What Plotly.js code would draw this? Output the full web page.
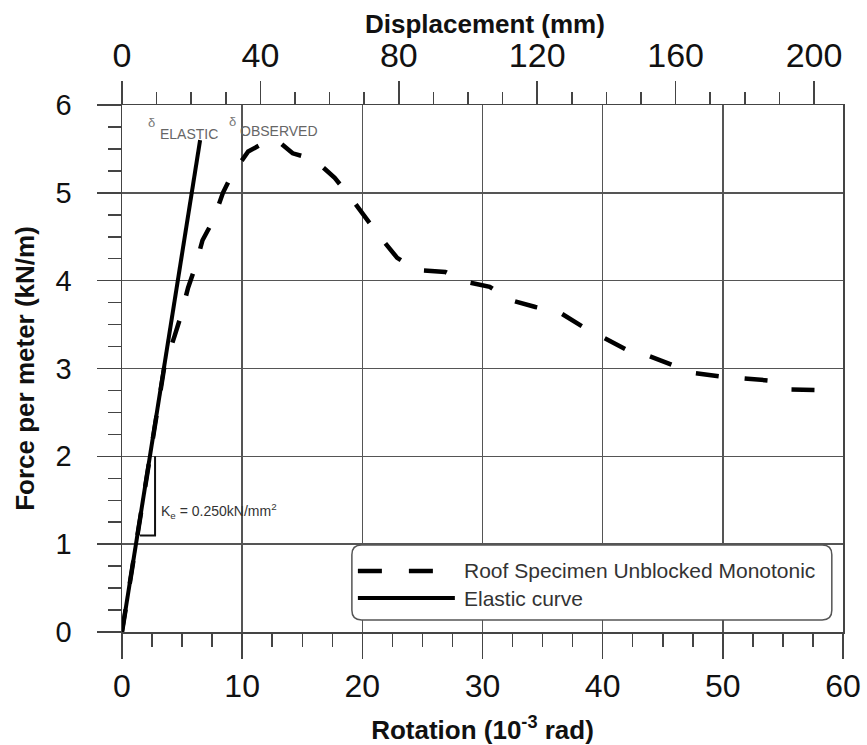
<!DOCTYPE html>
<html>
<head>
<meta charset="utf-8">
<script src="https://cdn.plot.ly/plotly-3.0.1.min.js"></script>
<style>
  html, body { margin: 0; padding: 0; background: #fff; }
  #chart { width: 867px; height: 745px; }
</style>
</head>
<body>
<div id="chart"></div>
<script>
// Observed curve (rotation in 10^-3 rad, force in kN/m)
const observedRotation = [0, 1.2, 2.4, 3.5, 4.4, 4.9, 5.5, 6.1, 6.7, 7.6, 8.4, 9.2, 10.5, 12.1, 12.9, 14.2, 16.0, 17.7, 18.9, 20.2, 21.4, 22.9, 24.5, 26.9, 28.5, 30.6, 32.3, 34.4, 36.4, 38.3, 39.8, 41.9, 43.7, 45.9, 47.5, 49.8, 51.6, 54.1, 55.6, 57.9, 59.1];
const observedForce    = [0, 1.05, 2.05, 3.0, 3.38, 3.6, 3.92, 4.16, 4.46, 4.69, 5.0, 5.22, 5.47, 5.59, 5.6, 5.45, 5.38, 5.17, 4.97, 4.72, 4.51, 4.26, 4.12, 4.10, 3.99, 3.93, 3.78, 3.70, 3.64, 3.48, 3.37, 3.22, 3.15, 3.04, 2.95, 2.91, 2.89, 2.86, 2.76, 2.75, 2.75];

// Elastic line
const elasticRotation = [0, 6.5];
const elasticForce    = [0, 5.6];

// Stiffness triangle
const triangleRotation = [1.5, 2.75, 2.75];
const triangleForce    = [1.1, 1.1, 2.0];

// Axis definitions
const rotationRange = [0, 60];
const forceRange = [0, 6];
const mmPerRotationUnit = 3.473;   // displacement (mm) per 10^-3 rad

const seriesNames = ['Roof Specimen Unblocked Monotonic', 'Elastic curve'];
const topAxisTitle = 'Displacement (mm)';

const FONT = '"Liberation Sans", Arial, Helvetica, sans-serif';
const AX = '#444';

const traces = [
  { x: observedRotation, y: observedForce, type: 'scatter', mode: 'lines', name: seriesNames[0],
    line: { color: '#000', width: 4.5, dash: '23px,26px' }, showlegend: false, xaxis: 'x', yaxis: 'y' },
  { x: elasticRotation, y: elasticForce, type: 'scatter', mode: 'lines', name: seriesNames[1],
    line: { color: '#000', width: 4 }, showlegend: false, xaxis: 'x', yaxis: 'y' },
  { x: triangleRotation, y: triangleForce, type: 'scatter', mode: 'lines', name: 'Ke',
    line: { color: '#111', width: 2 }, showlegend: false, hoverinfo: 'skip' },
  { x: [], y: [], type: 'scatter', mode: 'lines', xaxis: 'x2', yaxis: 'y', showlegend: false }
];

// legend geometry (data coordinates)
const lgX0 = 19.13, lgX1 = 59.07, lgY0 = 0.137, lgY1 = 0.99, rx = 0.8, ry = 0.11;
const boxPath = `M${lgX0 + rx},${lgY0} L${lgX1 - rx},${lgY0} Q${lgX1},${lgY0} ${lgX1},${lgY0 + ry} L${lgX1},${lgY1 - ry} Q${lgX1},${lgY1} ${lgX1 - rx},${lgY1} L${lgX0 + rx},${lgY1} Q${lgX0},${lgY1} ${lgX0},${lgY1 - ry} L${lgX0},${lgY0 + ry} Q${lgX0},${lgY0} ${lgX0 + rx},${lgY0} Z`;

const layout = {
  width: 867, height: 745, autosize: false,
  margin: { l: 122, r: 24, t: 105, b: 113, pad: 0 },
  paper_bgcolor: '#fff', plot_bgcolor: '#fff',
  font: { family: FONT, color: '#111' },
  showlegend: false,
  xaxis: {
    range: rotationRange, tick0: 0, dtick: 10,
    showgrid: true, gridcolor: '#555', gridwidth: 1.5, zeroline: false,
    showline: true, linecolor: AX, linewidth: 1.5, mirror: true,
    ticks: 'outside', ticklen: 25, tickwidth: 1.5, tickcolor: AX,
    minor: { dtick: 2.5, ticks: 'outside', ticklen: 13, tickwidth: 1.5, tickcolor: AX, showgrid: false },
    tickfont: { size: 32, family: FONT, color: '#111' },
    title: { text: 'Rotation (10<sup>-3</sup> rad)', font: { size: 26, family: FONT, weight: 'bold', color: '#111' }, standoff: 28 }
  },
  xaxis2: {
    overlaying: 'x', side: 'top', anchor: 'y',
    range: [0, rotationRange[1] * mmPerRotationUnit], tick0: 0, dtick: 40,
    showgrid: false, zeroline: false,
    showline: true, linecolor: AX, linewidth: 1.5,
    ticks: 'outside', ticklen: 23, tickwidth: 1.5, tickcolor: AX,
    minor: { dtick: 10, ticks: 'outside', ticklen: 12, tickwidth: 1.5, tickcolor: AX, showgrid: false },
    tickfont: { size: 34, family: FONT, color: '#111' }
  },
  yaxis: {
    range: forceRange, tick0: 0, dtick: 1,
    showgrid: true, gridcolor: '#555', gridwidth: 1.5, zeroline: false,
    showline: true, linecolor: AX, linewidth: 1.5, mirror: true,
    ticks: 'outside', ticklen: 24, tickwidth: 1.5, tickcolor: AX,
    minor: { dtick: 0.25, ticks: 'outside', ticklen: 13, tickwidth: 1.5, tickcolor: AX, showgrid: false },
    tickfont: { size: 29, family: FONT, color: '#111' },
    ticklabelstandoff: 19,
    title: { text: 'Force per meter (kN/m)', font: { size: 26, family: FONT, weight: 'bold', color: '#111' }, standoff: 13 }
  },
  shapes: [
    { type: 'path', xref: 'x', yref: 'y', path: boxPath, fillcolor: '#fff', line: { color: '#555', width: 1.5 }, layer: 'above' },
    { type: 'line', xref: 'x', yref: 'y', x0: 19.63, x1: 27.7, y0: 0.695, y1: 0.695, line: { color: '#000', width: 4.5, dash: '24px,27px' }, layer: 'above' },
    { type: 'line', xref: 'x', yref: 'y', x0: 19.63, x1: 27.7, y0: 0.387, y1: 0.387, line: { color: '#000', width: 4 }, layer: 'above' }
  ],
  annotations: [
    { xref: 'paper', yref: 'paper', x: 0.503, y: 1.154, text: topAxisTitle, showarrow: false, xanchor: 'center', yanchor: 'middle', font: { size: 26, family: FONT, weight: 'bold', color: '#111' } },
    { xref: 'x', yref: 'y', x: 28.3, y: 0.695, text: seriesNames[0], showarrow: false, xanchor: 'left', yanchor: 'middle', font: { size: 21, family: FONT, color: '#333' } },
    { xref: 'x', yref: 'y', x: 28.3, y: 0.387, text: seriesNames[1], showarrow: false, xanchor: 'left', yanchor: 'middle', font: { size: 21, family: FONT, color: '#333' } },
    { xref: 'x', yref: 'y', x: 2.47, y: 5.80, text: 'δ', showarrow: false, xanchor: 'center', yanchor: 'middle', font: { size: 13, family: FONT, color: '#777' } },
    { xref: 'x', yref: 'y', x: 3.0, y: 5.67, text: 'ELASTIC', showarrow: false, xanchor: 'left', yanchor: 'middle', font: { size: 14, family: FONT, color: '#666' } },
    { xref: 'x', yref: 'y', x: 9.21, y: 5.81, text: 'δ', showarrow: false, xanchor: 'center', yanchor: 'middle', font: { size: 13, family: FONT, color: '#777' } },
    { xref: 'x', yref: 'y', x: 9.63, y: 5.70, text: 'OBSERVED', showarrow: false, xanchor: 'left', yanchor: 'middle', font: { size: 14, family: FONT, color: '#666' } },
    { xref: 'x', yref: 'y', x: 3.1, y: 1.38, text: 'K<sub>e</sub> = 0.250kN/mm<sup>2</sup>', showarrow: false, xanchor: 'left', yanchor: 'middle', font: { size: 14, family: FONT, color: '#333' } }
  ]
};

Plotly.newPlot('chart', traces, layout, { staticPlot: true, displayModeBar: false });
</script>
</body>
</html>
